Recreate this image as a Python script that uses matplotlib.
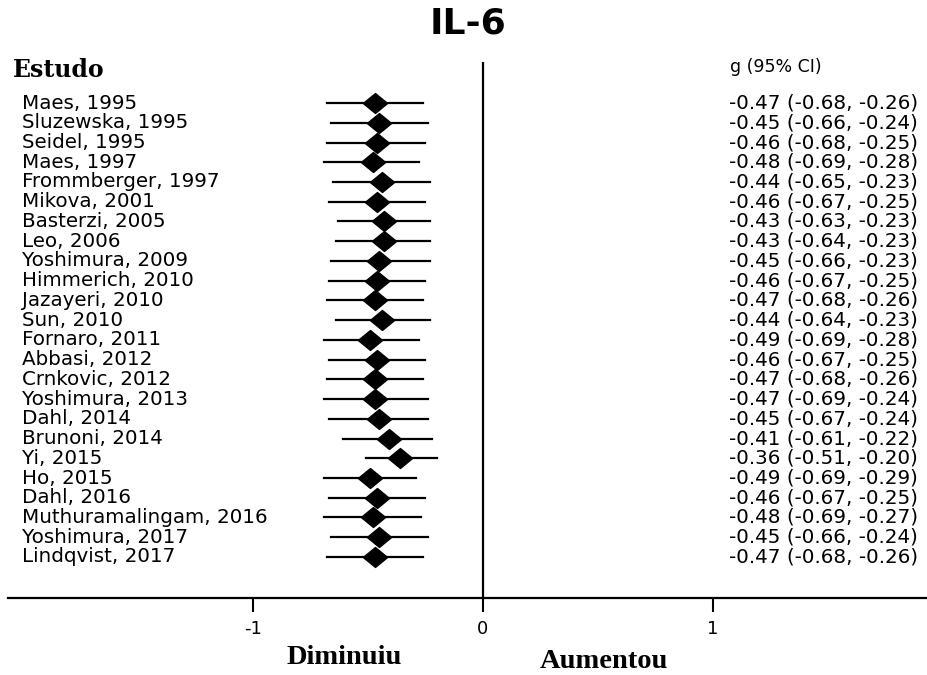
import matplotlib
matplotlib.use("Agg")
import matplotlib.pyplot as plt
import matplotlib.transforms as mtransforms

studies = ["Maes, 1995", "Sluzewska, 1995", "Seidel, 1995", "Maes, 1997",
           "Frommberger, 1997", "Mikova, 2001", "Basterzi, 2005", "Leo, 2006",
           "Yoshimura, 2009", "Himmerich, 2010", "Jazayeri, 2010", "Sun, 2010",
           "Fornaro, 2011", "Abbasi, 2012", "Crnkovic, 2012", "Yoshimura, 2013",
           "Dahl, 2014", "Brunoni, 2014", "Yi, 2015", "Ho, 2015", "Dahl, 2016",
           "Muthuramalingam, 2016", "Yoshimura, 2017", "Lindqvist, 2017"]
g = [-0.47, -0.45, -0.46, -0.48, -0.44, -0.46, -0.43, -0.43, -0.45, -0.46,
     -0.47, -0.44, -0.49, -0.46, -0.47, -0.47, -0.45, -0.41, -0.36, -0.49,
     -0.46, -0.48, -0.45, -0.47]
ci_low = [-0.68, -0.66, -0.68, -0.69, -0.65, -0.67, -0.63, -0.64, -0.66, -0.67,
          -0.68, -0.64, -0.69, -0.67, -0.68, -0.69, -0.67, -0.61, -0.51, -0.69,
          -0.67, -0.69, -0.66, -0.68]
ci_high = [-0.26, -0.24, -0.25, -0.28, -0.23, -0.25, -0.23, -0.23, -0.23, -0.25,
           -0.26, -0.23, -0.28, -0.25, -0.26, -0.24, -0.24, -0.22, -0.20, -0.29,
           -0.25, -0.27, -0.24, -0.26]
xticks = [-1, 0, 1]
xtick_labels = ["-1", "0", "1"]

W, H = 928, 675
fig = plt.figure(figsize=(W / 100, H / 100), dpi=100)
ax = fig.add_axes([8 / W, (H - 598) / H, 920 / W, (598 - 62) / H])

rows = list(range(len(studies)))
diamond = [(-1, 0), (0, 0.82), (1, 0), (0, -0.82), (-1, 0)]

for i in rows:
    ax.plot([ci_low[i], ci_high[i]], [i, i], color="black", lw=1.6)
ax.plot(g, rows, linestyle="none", marker=diamond, markersize=17.5,
        color="black")

ax.axvline(0, color="black", lw=1.6)
ax.set_xlim(-2.065, 1.935)
ax.set_ylim(25.08, -2.08)

for side in ["top", "right", "left"]:
    ax.spines[side].set_visible(False)
ax.spines["bottom"].set_linewidth(1.6)
ax.set_yticks([])
ax.set_xticks(xticks)
ax.set_xticklabels(xtick_labels)
ax.tick_params(axis="x", direction="out", length=10, width=1.5,
               labelsize=13, pad=6)

trans = mtransforms.blended_transform_factory(fig.transFigure, ax.transData)
for i in rows:
    ax.text(22 / W, i, studies[i], transform=trans, ha="left", va="center",
            fontsize=14.3, family="DejaVu Sans")
    ax.text(729 / W, i, f"{g[i]:.2f} ({ci_low[i]:.2f}, {ci_high[i]:.2f})",
            transform=trans, ha="left", va="center", fontsize=14.3,
            family="DejaVu Sans")

fig.text(468 / W, 1 - 23 / H, "IL-6", ha="center", va="center",
         fontsize=26, fontweight="bold", family="DejaVu Sans")
fig.text(13 / W, 1 - 70 / H, "Estudo", ha="left", va="center",
         fontsize=17, fontweight="bold", family="DejaVu Serif")
fig.text(730 / W, 1 - 67 / H, "g (95% CI)", ha="left", va="center",
         fontsize=12.5, family="DejaVu Sans")
fig.text(344 / W, 1 - 658 / H, "Diminuiu", ha="center", va="center",
         fontsize=20.5, fontweight="bold", family="Liberation Serif")
fig.text(604 / W, 1 - 662 / H, "Aumentou", ha="center", va="center",
         fontsize=20.5, fontweight="bold", family="Liberation Serif")

fig.savefig("out.png", dpi=100)
